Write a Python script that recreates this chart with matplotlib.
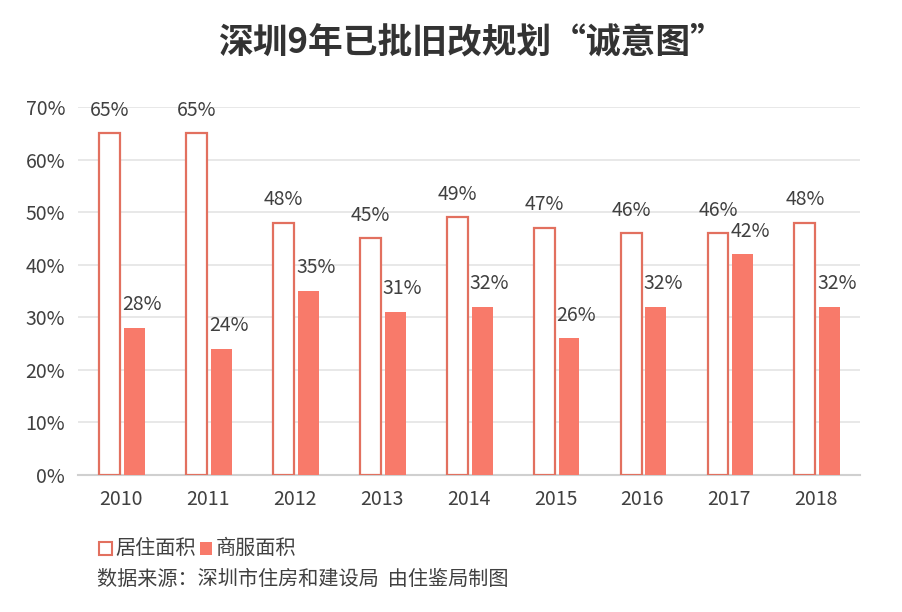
import numpy as np
import matplotlib.pyplot as plt

plt.rcParams['font.family'] = ['Noto Sans CJK SC', 'DejaVu Sans']

years = ['2010', '2011', '2012', '2013', '2014', '2015', '2016', '2017', '2018']
residential = [65, 65, 48, 45, 49, 47, 46, 46, 48]
commercial = [28, 24, 35, 31, 32, 26, 32, 42, 32]

red = '#F87A6A'
edge = '#E2705F'
txt = '#404040'

fig = plt.figure(figsize=(9.03, 6.12), dpi=100)
ax = fig.add_axes([0.086, 0.224, 0.866, 0.601])

x = np.arange(len(years))
w = 0.24
ax.bar(x - 0.13, residential, w, facecolor='white', edgecolor=edge, linewidth=1.6, zorder=3)
ax.bar(x + 0.155, commercial, w, color=red, zorder=3)

for i in range(len(years)):
    ax.text(x[i] - 0.13, residential[i] + 2.4, f'{residential[i]}%', ha='center', va='bottom',
            fontsize=14, color=txt)
    ax.text(x[i] + 0.24, commercial[i] + 2.4, f'{commercial[i]}%', ha='center', va='bottom',
            fontsize=14, color=txt)

ax.set_xlim(-0.5, len(years) - 0.5)
ax.set_ylim(0, 70)
ax.set_yticks(range(0, 71, 10))
ax.set_yticklabels([f'{v}%' for v in range(0, 71, 10)], fontsize=14, color=txt)
ax.set_xticks(x)
ax.set_xticklabels(years, fontsize=14, color=txt)
ax.tick_params(length=0, pad=10)
ax.tick_params(axis='y', pad=9)
ax.grid(axis='y', color='#e4e4e4', linewidth=1.2, zorder=0)
for s in ['top', 'right', 'left']:
    ax.spines[s].set_visible(False)
ax.spines['bottom'].set_color('#d0d0d0')
ax.spines['bottom'].set_linewidth(1.5)

fig.text(0.522, 0.932, '深圳9年已批旧改规划“诚意图”', ha='center', va='center',
         fontsize=25, fontweight='bold', color='#333333')

# legend
fig.patches.append(plt.Rectangle((0.110, 0.093), 0.014, 0.022, transform=fig.transFigure,
                                 facecolor='white', edgecolor=edge, linewidth=1.5))
fig.text(0.128, 0.104, '居住面积', ha='left', va='center', fontsize=14.5, color=txt)
fig.patches.append(plt.Rectangle((0.221, 0.093), 0.014, 0.022, transform=fig.transFigure,
                                 facecolor=red, edgecolor='none'))
fig.text(0.239, 0.104, '商服面积', ha='left', va='center', fontsize=14.5, color=txt)
fig.text(0.107, 0.053, '数据来源：深圳市住房和建设局  由住鉴局制图', ha='left', va='center',
         fontsize=14.5, color=txt)

fig.savefig('out.png', dpi=100, facecolor='white')
